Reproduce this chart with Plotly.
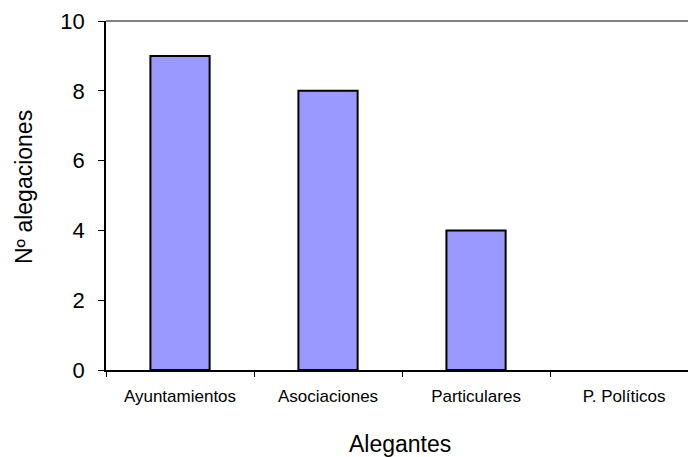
import plotly.graph_objects as go

categories = ["Ayuntamientos", "Asociaciones", "Particulares", "P. Políticos"]
values = [9, 8, 4, 0]
y_ticks = [0, 2, 4, 6, 8, 10]

fig = go.Figure()
fig.add_trace(go.Bar(
    x=categories, y=values, width=0.4,
    marker=dict(color="#9999FF", line=dict(color="#000000", width=[2, 2, 2, 0])),
))

fig.update_layout(
    width=688, height=457,
    margin=dict(l=106, r=0, t=21, b=87),
    paper_bgcolor="white", plot_bgcolor="white",
    showlegend=False,
    font=dict(family="Liberation Sans, Arial, sans-serif", color="#000000"),
    xaxis=dict(
        type="category", range=[-0.5, 3.432],
        showline=True, linecolor="#000000", linewidth=1.5,
        ticks="outside", tickson="boundaries", ticklen=5, tickcolor="#000000",
        tickfont=dict(size=17), ticklabelstandoff=10,
        showgrid=False, zeroline=False,
    ),
    yaxis=dict(
        range=[0, 10], tickvals=y_ticks,
        showline=True, linecolor="#000000", linewidth=1.5,
        ticks="outside", ticklen=6, tickcolor="#000000",
        tickfont=dict(size=22), ticklabelstandoff=9,
        showgrid=False, zeroline=False,
    ),
    shapes=[dict(type="line", xref="paper", yref="paper", x0=0, x1=1, y0=1, y1=1,
                 line=dict(color="#808080", width=2))],
    annotations=[
        dict(text="Alegantes", xref="paper", yref="paper", x=(400-106)/582, y=-(444-370)/349,
             showarrow=False, font=dict(size=23), xanchor="center", yanchor="middle"),
        dict(text="Nº alegaciones", xref="paper", yref="paper", x=-(106-24)/582, y=(370-187)/349,
             showarrow=False, font=dict(size=23), textangle=-90, xanchor="center", yanchor="middle"),
    ],
)

fig.write_html("out.html")
